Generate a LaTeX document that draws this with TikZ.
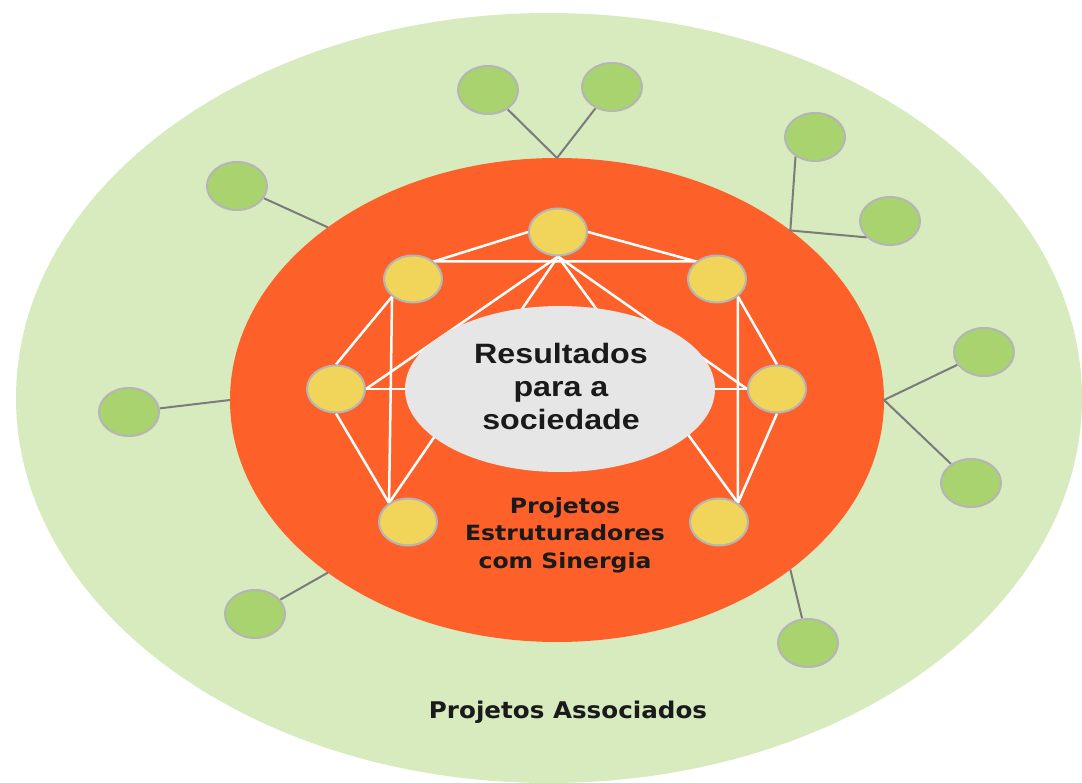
\documentclass[tikz,border=0pt]{standalone}
\usepackage{fontspec}
\setmainfont{Liberation Sans}
\newfontfamily\deja{DejaVu Sans}
\usetikzlibrary{shapes.geometric}
\definecolor{outerg}{HTML}{D7EBBF}
\definecolor{orangec}{HTML}{FD6129}
\definecolor{grayell}{HTML}{E6E6E6}
\definecolor{yelc}{HTML}{F0D55A}
\definecolor{grnc}{HTML}{A9D36E}
\definecolor{bordc}{HTML}{B5B5B5}
\definecolor{connc}{HTML}{7B7B7B}
\definecolor{txtc}{HTML}{1A1A1A}
\pgfdeclarelayer{bgzero}
\pgfdeclarelayer{bgone}
\pgfsetlayers{bgzero,bgone,main}
\tikzset{
  ynode/.style={ellipse, fill=yelc, draw=bordc, line width=2pt, minimum width=58pt, minimum height=47pt, inner sep=0pt},
  gnode/.style={ellipse, fill=grnc, draw=bordc, line width=2pt, minimum width=60pt, minimum height=48pt, inner sep=0pt},
  wl/.style={draw=white, line width=2.5pt},
  conn/.style={draw=connc, line width=2pt},
  region/.style={ellipse, inner sep=0pt, outer sep=0pt},
  label/.style={align=center, text=txtc, transform shape}
}
\begin{document}
\begin{tikzpicture}[x=1pt,y=-1pt]
\useasboundingbox (0,0) rectangle (1082,783);
\begin{pgfonlayer}{bgzero}
\node[region, fill=outerg, minimum width=1066pt, minimum height=770pt] (outer) at (549,398) {};
\node[region, fill=orangec, minimum width=654pt, minimum height=484pt] (core) at (557,400) {};
\end{pgfonlayer}
% yellow nodes
\node[ynode] (T) at (558,232) {};
\node[ynode] (UL) at (413,279) {};
\node[ynode] (UR) at (717,279) {};
\node[ynode] (L) at (336,389) {};
\node[ynode] (R) at (777,389) {};
\node[ynode] (BL) at (408,522) {};
\node[ynode] (BR) at (719,522) {};
% central ellipse
\node[region, fill=grayell, minimum width=310pt, minimum height=166pt] (res) at (560,389) {};
\node[label, xscale=1.15, font=\bfseries\fontsize{28}{33}\selectfont] (restext) at (561,386) {Resultados\\para a\\sociedade};
% green nodes
\node[gnode] (G1) at (488,90) {};
\node[gnode] (G2) at (612,87) {};
\node[gnode] (G3) at (815,137) {};
\node[gnode] (G4) at (890,221) {};
\node[gnode] (G5) at (984,352) {};
\node[gnode] (G6) at (971,483) {};
\node[gnode] (G7) at (808,643) {};
\node[gnode] (G8) at (255,614) {};
\node[gnode] (G9) at (129,412) {};
\node[gnode] (G10) at (237,186) {};
% labels
\node[label, xscale=1.12, font=\deja\bfseries\fontsize{21}{27.5}\selectfont] (pes) at (565,535) {Projetos\\Estruturadores\\com Sinergia};
\node[label, xscale=1.07, font=\deja\bfseries\fontsize{23}{26}\selectfont] (pa) at (568,712) {Projetos Associados};
\begin{pgfonlayer}{bgone}
% white network
\draw[wl] (T.west) -- (UL.40) -- (UR.140) -- (T.east);
\draw[wl] (T.south) -- (L.east);
\draw[wl] (T.south) -- (BL.135);
\draw[wl] (T.south) -- (R.west);
\draw[wl] (T.south) -- (BR.45);
\draw[wl] (UL.220) -- (BL.135);
\draw[wl] (UL.220) -- (L.north);
\draw[wl] (L.south) -- (BL.135);
\draw[wl] (L.east) -- (R.west);
\draw[wl] (UR.-40) -- (BR.45);
\draw[wl] (UR.-40) -- (R.north);
\draw[wl] (R.south) -- (BR.45);
% gray connectors
\draw[conn] (G1) -- (core.north) -- (G2);
\draw[conn] (G3.225) -- (core.36) -- (G4.215);
\draw[conn] (G5) -- (core.east) -- (G6);
\draw[conn] (core.-36.4) -- (G7);
\draw[conn] (core.-143.3) -- (G8);
\draw[conn] (core.west) -- (G9);
\draw[conn] (core.143.5) -- (G10);
\end{pgfonlayer}
\end{tikzpicture}
\end{document}
